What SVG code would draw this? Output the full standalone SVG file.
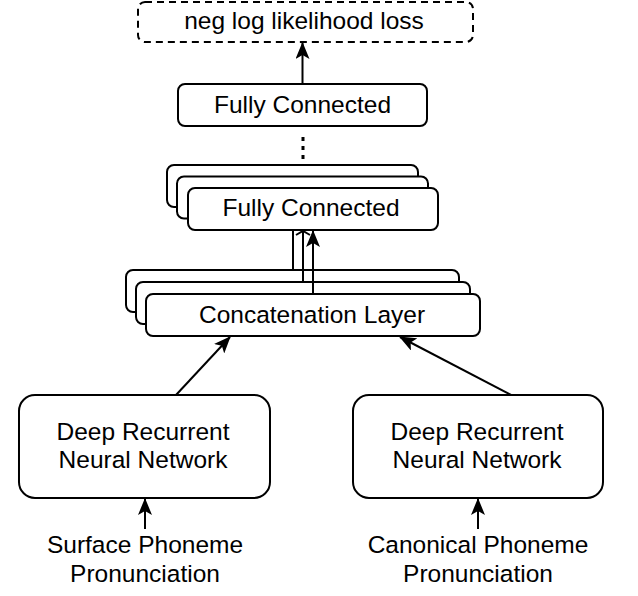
<svg xmlns="http://www.w3.org/2000/svg" width="638" height="596" viewBox="0 0 638 596">
<defs>
<style>
.box{fill:#fff;stroke:#000;stroke-width:2}
.dash{fill:#fff;stroke:#000;stroke-width:2;stroke-dasharray:7 5}
.lbl{font-family:"Liberation Sans",Arial,sans-serif;font-size:24.5px;fill:#000;text-anchor:middle}
.edge{fill:none;stroke:#000;stroke-width:2}
</style>
<marker id="ah" viewBox="0 0 17 14" refX="16" refY="7" markerWidth="17" markerHeight="14" markerUnits="userSpaceOnUse" orient="auto">
<path d="M0,0 L17,7 L0,14 L4,7 Z" fill="#000"/>
</marker>
</defs>
<rect width="638" height="596" fill="#fff"/>

<g id="loss">
<rect class="dash" x="138" y="2" width="335" height="40" rx="7"/>
<text class="lbl" x="304" y="29">neg log likelihood loss</text>
</g>
<g id="fc-top">
<rect class="box" x="178" y="84" width="249" height="42" rx="7"/>
<text class="lbl" x="302.5" y="113">Fully Connected</text>
</g>

<g id="dots">
<line x1="303" y1="137" x2="303" y2="162" stroke="#000" stroke-width="3" stroke-dasharray="4 5"/>
</g>

<g id="concat-back">
<rect class="box" x="126" y="270" width="333" height="42" rx="7"/>
</g>
<g id="fc-back">
<rect class="box" x="167" y="165" width="251" height="42" rx="7"/>
</g>
<g id="concat-mid">
<rect class="box" x="136" y="282" width="334" height="42" rx="7"/>
</g>
<g id="fc-mid">
<rect class="box" x="177" y="176.5" width="251" height="42" rx="7"/>
</g>
<g id="concat-front">
<rect class="box" x="146" y="294" width="334" height="42" rx="7"/>
<text class="lbl" x="312" y="323">Concatenation Layer</text>
</g>
<g id="fc-front">
<rect class="box" x="188" y="188" width="250" height="42" rx="7"/>
<text class="lbl" x="311" y="216">Fully Connected</text>
</g>

<g id="drnn-left">
<rect class="box" x="19" y="395" width="251" height="103" rx="16"/>
<text class="lbl" x="143" y="440">Deep Recurrent</text>
<text class="lbl" x="143" y="468">Neural Network</text>
</g>
<g id="drnn-right">
<rect class="box" x="353" y="395" width="250" height="103" rx="16"/>
<text class="lbl" x="477" y="440">Deep Recurrent</text>
<text class="lbl" x="477" y="468">Neural Network</text>
</g>

<g id="input-left">
<text class="lbl" x="145" y="553">Surface Phoneme</text>
<text class="lbl" x="145" y="582">Pronunciation</text>
</g>
<g id="input-right">
<text class="lbl" x="478" y="553">Canonical Phoneme</text>
<text class="lbl" x="478" y="582">Pronunciation</text>
</g>

<g id="connectors">
<line class="edge" x1="302.5" y1="84" x2="302.5" y2="43" marker-end="url(#ah)"/>
<line class="edge" x1="176" y1="395" x2="230" y2="337" marker-end="url(#ah)"/>
<line class="edge" x1="511" y1="395" x2="400" y2="337" marker-end="url(#ah)"/>
<line class="edge" x1="145" y1="529" x2="145" y2="499" marker-end="url(#ah)"/>
<line class="edge" x1="478" y1="529" x2="478" y2="499" marker-end="url(#ah)"/>
</g>
<g id="stack-connectors">
<line class="edge" x1="293" y1="270" x2="293" y2="231"/>
<line class="edge" x1="303" y1="282" x2="303" y2="231"/>
<path d="M296,235 L303,231 L310,235" fill="none" stroke="#000" stroke-width="2"/>
<line class="edge" x1="313" y1="294" x2="313" y2="231" marker-end="url(#ah)"/>
</g>
</svg>
